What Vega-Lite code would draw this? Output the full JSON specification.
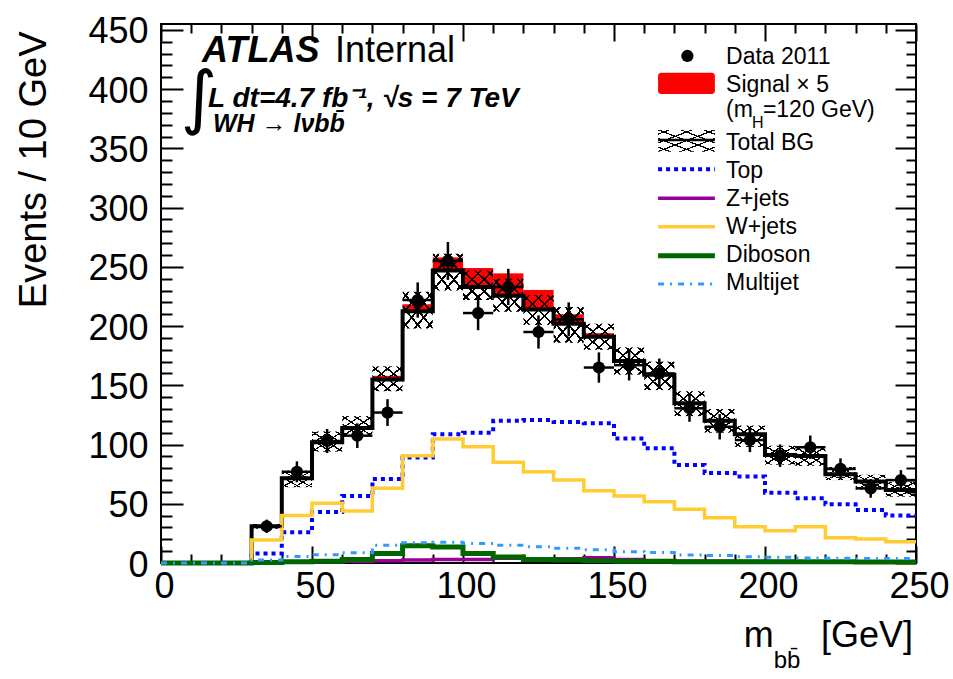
{
  "$schema": "https://vega.github.io/schema/vega-lite/v6.json",
  "width": 755,
  "height": 539,
  "autosize": {"type": "none"},
  "padding": {"left": 161, "top": 24, "right": 37, "bottom": 116},
  "background": "white",
  "config": {
    "font": "Liberation Sans",
    "view": {"stroke": "black", "strokeWidth": 2},
    "axis": {"labelColor": "black", "tickColor": "black", "tickWidth": 2, "domain": false, "grid": false, "labelOverlap": false, "labelFlush": false}
  },
  "resolve": {"axis": {"x": "independent", "y": "independent"}},
  "data": {
    "values": [
      {"lo": 0, "hi": 10, "c": 5, "bg": 0, "sig": 0, "up": 0, "dn": 0, "top": 0, "wj": 0, "zj": 0, "db": 0, "mj": 0, "d": null, "dl": null, "dh": null},
      {"lo": 10, "hi": 20, "c": 15, "bg": 0, "sig": 0, "up": 0, "dn": 0, "top": 0, "wj": 0, "zj": 0, "db": 0, "mj": 0, "d": null, "dl": null, "dh": null},
      {"lo": 20, "hi": 30, "c": 25, "bg": 0, "sig": 0, "up": 0, "dn": 0, "top": 0, "wj": 0, "zj": 0, "db": 0, "mj": 0, "d": null, "dl": null, "dh": null},
      {"lo": 30, "hi": 40, "c": 35, "bg": 31, "sig": 31.5, "up": 33, "dn": 29, "top": 8, "wj": 19.4, "zj": 0.5, "db": 0.5, "mj": 2.5, "d": 31, "dl": 25.4, "dh": 36.6},
      {"lo": 40, "hi": 50, "c": 45, "bg": 71.5, "sig": 72, "up": 78, "dn": 64, "top": 26, "wj": 40, "zj": 1, "db": 1, "mj": 5.5, "d": 77, "dl": 68.2, "dh": 85.8},
      {"lo": 50, "hi": 60, "c": 55, "bg": 102, "sig": 102.5, "up": 111, "dn": 94, "top": 43, "wj": 50.4, "zj": 1, "db": 1.5, "mj": 7, "d": 103, "dl": 92.9, "dh": 113.1},
      {"lo": 60, "hi": 70, "c": 65, "bg": 114, "sig": 115, "up": 124, "dn": 107, "top": 56.5, "wj": 44, "zj": 1.5, "db": 3, "mj": 8.7, "d": 107.5, "dl": 97.1, "dh": 117.9},
      {"lo": 70, "hi": 80, "c": 75, "bg": 155, "sig": 158, "up": 166, "dn": 145, "top": 71, "wj": 63, "zj": 2, "db": 8, "mj": 15, "d": 127, "dl": 115.7, "dh": 138.3},
      {"lo": 80, "hi": 90, "c": 85, "bg": 212.5, "sig": 218.5, "up": 229, "dn": 198, "top": 89, "wj": 90.6, "zj": 2.5, "db": 14.5, "mj": 17, "d": 222, "dl": 207.1, "dh": 236.9},
      {"lo": 90, "hi": 100, "c": 95, "bg": 247, "sig": 258, "up": 261, "dn": 230, "top": 108.6, "wj": 104.7, "zj": 3, "db": 13.5, "mj": 17.5, "d": 255, "dl": 239, "dh": 271},
      {"lo": 100, "hi": 110, "c": 105, "bg": 233, "sig": 249, "up": 247, "dn": 222, "top": 110, "wj": 98.2, "zj": 3, "db": 8, "mj": 16.5, "d": 211, "dl": 196.5, "dh": 225.5},
      {"lo": 110, "hi": 120, "c": 115, "bg": 225.5, "sig": 244.5, "up": 240, "dn": 212, "top": 120, "wj": 85, "zj": 4, "db": 5, "mj": 15, "d": 233, "dl": 217.7, "dh": 248.3},
      {"lo": 120, "hi": 130, "c": 125, "bg": 214, "sig": 230.5, "up": 226, "dn": 201, "top": 120.7, "wj": 77, "zj": 3.5, "db": 3, "mj": 13.8, "d": 195, "dl": 181, "dh": 209},
      {"lo": 130, "hi": 140, "c": 135, "bg": 202, "sig": 210, "up": 216, "dn": 186, "top": 119, "wj": 70, "zj": 3.5, "db": 2.5, "mj": 12.4, "d": 205.7, "dl": 191.4, "dh": 220},
      {"lo": 140, "hi": 150, "c": 145, "bg": 191, "sig": 194, "up": 202, "dn": 180, "top": 118, "wj": 61, "zj": 4.5, "db": 2, "mj": 11.2, "d": 165, "dl": 152.2, "dh": 177.8},
      {"lo": 150, "hi": 160, "c": 155, "bg": 170.5, "sig": 171.5, "up": 182, "dn": 159, "top": 105, "wj": 56.6, "zj": 3, "db": 1.5, "mj": 9.6, "d": 167, "dl": 154.1, "dh": 179.9},
      {"lo": 160, "hi": 170, "c": 165, "bg": 159, "sig": 160, "up": 170, "dn": 146, "top": 96.8, "wj": 51.8, "zj": 2, "db": 1.5, "mj": 8.9, "d": 160, "dl": 147.4, "dh": 172.6},
      {"lo": 170, "hi": 180, "c": 175, "bg": 134.8, "sig": 135.5, "up": 145, "dn": 124, "top": 82.7, "wj": 45.3, "zj": 1.5, "db": 1, "mj": 6.8, "d": 130.6, "dl": 119.2, "dh": 142},
      {"lo": 180, "hi": 190, "c": 185, "bg": 120, "sig": 120.5, "up": 130, "dn": 110, "top": 76, "wj": 38.3, "zj": 1.5, "db": 1, "mj": 6.3, "d": 115, "dl": 104.3, "dh": 125.7},
      {"lo": 190, "hi": 200, "c": 195, "bg": 108.6, "sig": 109, "up": 116, "dn": 98, "top": 73, "wj": 30.7, "zj": 1.2, "db": 1, "mj": 5.3, "d": 103.8, "dl": 93.6, "dh": 114},
      {"lo": 200, "hi": 210, "c": 205, "bg": 91.2, "sig": 91.5, "up": 99, "dn": 83, "top": 59.4, "wj": 27.3, "zj": 1.2, "db": 1, "mj": 4.8, "d": 90.6, "dl": 81.1, "dh": 100.1},
      {"lo": 210, "hi": 220, "c": 215, "bg": 90.3, "sig": 90.6, "up": 98, "dn": 82, "top": 54.6, "wj": 30.7, "zj": 1, "db": 1, "mj": 4.2, "d": 97.7, "dl": 87.8, "dh": 107.6},
      {"lo": 220, "hi": 230, "c": 225, "bg": 74.9, "sig": 75.2, "up": 81, "dn": 70, "top": 49.5, "wj": 21.4, "zj": 1, "db": 1, "mj": 4, "d": 79.4, "dl": 70.5, "dh": 88.3},
      {"lo": 230, "hi": 240, "c": 235, "bg": 68.7, "sig": 69, "up": 74.5, "dn": 62, "top": 44.7, "wj": 20.3, "zj": 1, "db": 0.8, "mj": 3.8, "d": 63, "dl": 55.1, "dh": 70.9},
      {"lo": 240, "hi": 250, "c": 245, "bg": 61.6, "sig": 61.9, "up": 68.5, "dn": 56, "top": 40, "wj": 18, "zj": 1, "db": 0.8, "mj": 3.7, "d": 70, "dl": 61.6, "dh": 78.4},
      {"lo": 250, "hi": null, "c": null, "bg": 61.6, "sig": null, "up": null, "dn": null, "top": 40, "wj": 18, "zj": 1, "db": 0.8, "mj": 3.7, "d": null, "dl": null, "dh": null}
    ]
  },
  "layer": [
    {
      "transform": [{"filter": "datum.lo < 250"}],
      "mark": {"type": "rect", "fill": "#ff0000"},
      "encoding": {
        "x": {
          "field": "lo", "type": "quantitative",
          "scale": {"domain": [0, 250], "nice": false, "zero": false},
          "axis": {
            "orient": "bottom", "title": null,
            "values": [0, 10, 20, 30, 40, 50, 60, 70, 80, 90, 100, 110, 120, 130, 140, 150, 160, 170, 180, 190, 200, 210, 220, 230, 240, 250],
            "labelExpr": "datum.value % 50 === 0 ? datum.label : ''",
            "tickSize": {"condition": {"test": "datum.value % 50 === 0", "value": -17}, "value": -9},
            "labelFontSize": 36, "labelPadding": 23, "labelOffset": 3
          }
        },
        "x2": {"field": "hi"},
        "y": {
          "field": "bg", "type": "quantitative",
          "scale": {"domain": [0, 455], "nice": false},
          "axis": {
            "orient": "left",
            "values": [0, 10, 20, 30, 40, 50, 60, 70, 80, 90, 100, 110, 120, 130, 140, 150, 160, 170, 180, 190, 200, 210, 220, 230, 240, 250, 260, 270, 280, 290, 300, 310, 320, 330, 340, 350, 360, 370, 380, 390, 400, 410, 420, 430, 440, 450],
            "labelExpr": "datum.value % 50 === 0 ? datum.label : ''",
            "tickSize": {"condition": {"test": "datum.value % 50 === 0", "value": -22}, "value": -11},
            "labelFontSize": 36, "labelPadding": 35, "labelOffset": 2,
            "title": "Events / 10 GeV", "titleFontSize": 38, "titleFontWeight": "normal", "titleColor": "black",
            "titleX": -116, "titleY": 7, "titleAngle": 270, "titleAlign": "right", "titleBaseline": "alphabetic"
          }
        },
        "y2": {"field": "sig"}
      }
    },
    {
      "transform": [{"filter": "datum.lo < 250"}],
      "mark": {"type": "rect", "fill": {"gradient": "linear", "x1": 0, "y1": 0, "x2": 1, "y2": 1, "stops": [
        {"offset": 0, "color": "rgba(0,0,0,0)"},
        {"offset": 0.08, "color": "rgba(0,0,0,0)"}, {"offset": 0.08, "color": "#000"}, {"offset": 0.12, "color": "#000"}, {"offset": 0.12, "color": "rgba(0,0,0,0)"},
        {"offset": 0.28, "color": "rgba(0,0,0,0)"}, {"offset": 0.28, "color": "#000"}, {"offset": 0.32, "color": "#000"}, {"offset": 0.32, "color": "rgba(0,0,0,0)"},
        {"offset": 0.48, "color": "rgba(0,0,0,0)"}, {"offset": 0.48, "color": "#000"}, {"offset": 0.52, "color": "#000"}, {"offset": 0.52, "color": "rgba(0,0,0,0)"},
        {"offset": 0.68, "color": "rgba(0,0,0,0)"}, {"offset": 0.68, "color": "#000"}, {"offset": 0.72, "color": "#000"}, {"offset": 0.72, "color": "rgba(0,0,0,0)"},
        {"offset": 0.88, "color": "rgba(0,0,0,0)"}, {"offset": 0.88, "color": "#000"}, {"offset": 0.92, "color": "#000"}, {"offset": 0.92, "color": "rgba(0,0,0,0)"},
        {"offset": 1, "color": "rgba(0,0,0,0)"}]}},
      "encoding": {
        "x": {
          "field": "lo", "type": "quantitative",
          "axis": {
            "orient": "top", "title": null, "labels": false,
            "values": [0, 10, 20, 30, 40, 50, 60, 70, 80, 90, 100, 110, 120, 130, 140, 150, 160, 170, 180, 190, 200, 210, 220, 230, 240, 250],
            "tickSize": {"condition": {"test": "datum.value % 50 === 0", "value": -17}, "value": -9}
          }
        },
        "x2": {"field": "hi"},
        "y": {
          "field": "dn", "type": "quantitative",
          "axis": {
            "orient": "right", "title": null, "labels": false,
            "values": [0, 10, 20, 30, 40, 50, 60, 70, 80, 90, 100, 110, 120, 130, 140, 150, 160, 170, 180, 190, 200, 210, 220, 230, 240, 250, 260, 270, 280, 290, 300, 310, 320, 330, 340, 350, 360, 370, 380, 390, 400, 410, 420, 430, 440, 450],
            "tickSize": {"condition": {"test": "datum.value % 50 === 0", "value": -21}, "value": -10}
          }
        },
        "y2": {"field": "up"}
      }
    },
    {
      "transform": [{"filter": "datum.lo < 250"}],
      "mark": {"type": "rect", "fill": {"gradient": "linear", "x1": 1, "y1": 0, "x2": 0, "y2": 1, "stops": [
        {"offset": 0, "color": "rgba(0,0,0,0)"},
        {"offset": 0.08, "color": "rgba(0,0,0,0)"}, {"offset": 0.08, "color": "#000"}, {"offset": 0.12, "color": "#000"}, {"offset": 0.12, "color": "rgba(0,0,0,0)"},
        {"offset": 0.28, "color": "rgba(0,0,0,0)"}, {"offset": 0.28, "color": "#000"}, {"offset": 0.32, "color": "#000"}, {"offset": 0.32, "color": "rgba(0,0,0,0)"},
        {"offset": 0.48, "color": "rgba(0,0,0,0)"}, {"offset": 0.48, "color": "#000"}, {"offset": 0.52, "color": "#000"}, {"offset": 0.52, "color": "rgba(0,0,0,0)"},
        {"offset": 0.68, "color": "rgba(0,0,0,0)"}, {"offset": 0.68, "color": "#000"}, {"offset": 0.72, "color": "#000"}, {"offset": 0.72, "color": "rgba(0,0,0,0)"},
        {"offset": 0.88, "color": "rgba(0,0,0,0)"}, {"offset": 0.88, "color": "#000"}, {"offset": 0.92, "color": "#000"}, {"offset": 0.92, "color": "rgba(0,0,0,0)"},
        {"offset": 1, "color": "rgba(0,0,0,0)"}]}},
      "encoding": {
        "x": {"field": "lo", "type": "quantitative", "axis": null},
        "x2": {"field": "hi"},
        "y": {"field": "dn", "type": "quantitative", "axis": null},
        "y2": {"field": "up"}
      }
    },
    {
      "mark": {"type": "line", "interpolate": "step-after", "color": "black", "strokeWidth": 4},
      "encoding": {
        "x": {"field": "lo", "type": "quantitative", "axis": null},
        "y": {"field": "bg", "type": "quantitative", "axis": null}
      }
    },
    {
      "mark": {"type": "line", "interpolate": "step-after", "color": "#0000ff", "strokeWidth": 4, "strokeDash": [4, 4]},
      "encoding": {
        "x": {"field": "lo", "type": "quantitative", "axis": null},
        "y": {"field": "top", "type": "quantitative", "axis": null}
      }
    },
    {
      "mark": {"type": "line", "interpolate": "step-after", "color": "#ffcc33", "strokeWidth": 3.5},
      "encoding": {
        "x": {"field": "lo", "type": "quantitative", "axis": null},
        "y": {"field": "wj", "type": "quantitative", "axis": null}
      }
    },
    {
      "mark": {"type": "line", "interpolate": "step-after", "color": "#990099", "strokeWidth": 3.5},
      "encoding": {
        "x": {"field": "lo", "type": "quantitative", "axis": null},
        "y": {"field": "zj", "type": "quantitative", "axis": null}
      }
    },
    {
      "mark": {"type": "line", "interpolate": "step-after", "color": "#006600", "strokeWidth": 5},
      "encoding": {
        "x": {"field": "lo", "type": "quantitative", "axis": null},
        "y": {"field": "db", "type": "quantitative", "axis": null}
      }
    },
    {
      "mark": {"type": "line", "interpolate": "step-after", "color": "#3399ff", "strokeWidth": 3, "strokeDash": [6, 6, 2, 6]},
      "encoding": {
        "x": {"field": "lo", "type": "quantitative", "axis": null},
        "y": {"field": "mj", "type": "quantitative", "axis": null}
      }
    },
    {
      "transform": [{"filter": "isValid(datum.d)"}],
      "mark": {"type": "rule", "color": "black", "strokeWidth": 2.5},
      "encoding": {
        "x": {"field": "lo", "type": "quantitative", "axis": null},
        "x2": {"field": "hi"},
        "y": {"field": "d", "type": "quantitative", "axis": null}
      }
    },
    {
      "transform": [{"filter": "isValid(datum.d)"}],
      "mark": {"type": "rule", "color": "black", "strokeWidth": 2.5},
      "encoding": {
        "x": {"field": "c", "type": "quantitative", "axis": null},
        "y": {"field": "dl", "type": "quantitative", "axis": null},
        "y2": {"field": "dh"}
      }
    },
    {
      "transform": [{"filter": "isValid(datum.d)"}],
      "mark": {"type": "point", "shape": "circle", "filled": true, "color": "black", "opacity": 1, "size": 150},
      "encoding": {
        "x": {"field": "c", "type": "quantitative", "axis": null},
        "y": {"field": "d", "type": "quantitative", "axis": null}
      }
    },
    {
      "data": {"values": [{}]},
      "mark": {"type": "text", "text": "ATLAS", "fontSize": 36, "fontWeight": "bold", "fontStyle": "italic", "align": "left", "baseline": "alphabetic", "color": "black"},
      "encoding": {"x": {"datum": 13.6, "type": "quantitative", "axis": null}, "y": {"datum": 423.2, "type": "quantitative", "axis": null}}
    },
    {
      "data": {"values": [{}]},
      "mark": {"type": "text", "text": "Internal", "fontSize": 36, "align": "left", "baseline": "alphabetic", "color": "black"},
      "encoding": {"x": {"datum": 57.6, "type": "quantitative", "axis": null}, "y": {"datum": 423.2, "type": "quantitative", "axis": null}}
    },
    {
      "data": {"values": [{}]},
      "mark": {"type": "text", "text": "∫", "font": "DejaVu Sans", "fontSize": 70, "align": "center", "baseline": "middle", "color": "black"},
      "encoding": {"x": {"datum": 12.6, "type": "quantitative", "axis": null}, "y": {"datum": 391.0, "type": "quantitative", "axis": null}}
    },
    {
      "data": {"values": [{}]},
      "mark": {"type": "text", "text": "L dt=4.7 fb⁻¹, √s = 7 TeV", "fontSize": 28, "fontWeight": "bold", "fontStyle": "italic", "align": "left", "baseline": "alphabetic", "color": "black"},
      "encoding": {"x": {"datum": 15.6, "type": "quantitative", "axis": null}, "y": {"datum": 385.2, "type": "quantitative", "axis": null}}
    },
    {
      "data": {"values": [{}]},
      "mark": {"type": "text", "text": "WH → lνbb̄", "fontSize": 25, "fontWeight": "bold", "fontStyle": "italic", "align": "left", "baseline": "alphabetic", "color": "black"},
      "encoding": {"x": {"datum": 17.2, "type": "quantitative", "axis": null}, "y": {"datum": 364.1, "type": "quantitative", "axis": null}}
    },
    {
      "data": {"values": [{}]},
      "mark": {"type": "point", "shape": "circle", "filled": true, "color": "black", "opacity": 1, "size": 150},
      "encoding": {"x": {"datum": 174.3, "type": "quantitative", "axis": null}, "y": {"datum": 428.0, "type": "quantitative", "axis": null}}
    },
    {
      "data": {"values": [{}]},
      "mark": {"type": "rect", "fill": "#ff0000", "cornerRadius": 3},
      "encoding": {"x": {"datum": 164.6, "type": "quantitative", "axis": null}, "x2": {"datum": 183.4}, "y": {"datum": 395.9, "type": "quantitative", "axis": null}, "y2": {"datum": 413.9}}
    },
    {
      "data": {"values": [{}]},
      "mark": {"type": "rect", "fill": {"gradient": "linear", "x1": 0, "y1": 0, "x2": 1, "y2": 1, "stops": [
        {"offset": 0, "color": "rgba(0,0,0,0)"},
        {"offset": 0.08, "color": "rgba(0,0,0,0)"}, {"offset": 0.08, "color": "#000"}, {"offset": 0.11, "color": "#000"}, {"offset": 0.11, "color": "rgba(0,0,0,0)"},
        {"offset": 0.28, "color": "rgba(0,0,0,0)"}, {"offset": 0.28, "color": "#000"}, {"offset": 0.31, "color": "#000"}, {"offset": 0.31, "color": "rgba(0,0,0,0)"},
        {"offset": 0.48, "color": "rgba(0,0,0,0)"}, {"offset": 0.48, "color": "#000"}, {"offset": 0.51, "color": "#000"}, {"offset": 0.51, "color": "rgba(0,0,0,0)"},
        {"offset": 0.68, "color": "rgba(0,0,0,0)"}, {"offset": 0.68, "color": "#000"}, {"offset": 0.71, "color": "#000"}, {"offset": 0.71, "color": "rgba(0,0,0,0)"},
        {"offset": 0.88, "color": "rgba(0,0,0,0)"}, {"offset": 0.88, "color": "#000"}, {"offset": 0.91, "color": "#000"}, {"offset": 0.91, "color": "rgba(0,0,0,0)"},
        {"offset": 1, "color": "rgba(0,0,0,0)"}]}},
      "encoding": {"x": {"datum": 164.6, "type": "quantitative", "axis": null}, "x2": {"datum": 183.4}, "y": {"datum": 347.2, "type": "quantitative", "axis": null}, "y2": {"datum": 365.5}}
    },
    {
      "data": {"values": [{}]},
      "mark": {"type": "rect", "fill": {"gradient": "linear", "x1": 1, "y1": 0, "x2": 0, "y2": 1, "stops": [
        {"offset": 0, "color": "rgba(0,0,0,0)"},
        {"offset": 0.08, "color": "rgba(0,0,0,0)"}, {"offset": 0.08, "color": "#000"}, {"offset": 0.11, "color": "#000"}, {"offset": 0.11, "color": "rgba(0,0,0,0)"},
        {"offset": 0.28, "color": "rgba(0,0,0,0)"}, {"offset": 0.28, "color": "#000"}, {"offset": 0.31, "color": "#000"}, {"offset": 0.31, "color": "rgba(0,0,0,0)"},
        {"offset": 0.48, "color": "rgba(0,0,0,0)"}, {"offset": 0.48, "color": "#000"}, {"offset": 0.51, "color": "#000"}, {"offset": 0.51, "color": "rgba(0,0,0,0)"},
        {"offset": 0.68, "color": "rgba(0,0,0,0)"}, {"offset": 0.68, "color": "#000"}, {"offset": 0.71, "color": "#000"}, {"offset": 0.71, "color": "rgba(0,0,0,0)"},
        {"offset": 0.88, "color": "rgba(0,0,0,0)"}, {"offset": 0.88, "color": "#000"}, {"offset": 0.91, "color": "#000"}, {"offset": 0.91, "color": "rgba(0,0,0,0)"},
        {"offset": 1, "color": "rgba(0,0,0,0)"}]}},
      "encoding": {"x": {"datum": 164.6, "type": "quantitative", "axis": null}, "x2": {"datum": 183.4}, "y": {"datum": 347.2, "type": "quantitative", "axis": null}, "y2": {"datum": 365.5}}
    },
    {
      "data": {"values": [{}]},
      "mark": {"type": "rule", "color": "black", "strokeWidth": 2.5},
      "encoding": {"x": {"datum": 164.6, "type": "quantitative", "axis": null}, "x2": {"datum": 183.4}, "y": {"datum": 357.1, "type": "quantitative", "axis": null}}
    },
    {
      "data": {"values": [{}]},
      "mark": {"type": "rule", "color": "#0000ff", "strokeWidth": 4, "strokeDash": [4, 4]},
      "encoding": {"x": {"datum": 164.6, "type": "quantitative", "axis": null}, "x2": {"datum": 183.4}, "y": {"datum": 332.4, "type": "quantitative", "axis": null}}
    },
    {
      "data": {"values": [{}]},
      "mark": {"type": "rule", "color": "#990099", "strokeWidth": 3.5},
      "encoding": {"x": {"datum": 164.6, "type": "quantitative", "axis": null}, "x2": {"datum": 183.4}, "y": {"datum": 307.9, "type": "quantitative", "axis": null}}
    },
    {
      "data": {"values": [{}]},
      "mark": {"type": "rule", "color": "#ffcc33", "strokeWidth": 3.5},
      "encoding": {"x": {"datum": 164.6, "type": "quantitative", "axis": null}, "x2": {"datum": 183.4}, "y": {"datum": 283.9, "type": "quantitative", "axis": null}}
    },
    {
      "data": {"values": [{}]},
      "mark": {"type": "rule", "color": "#006600", "strokeWidth": 5},
      "encoding": {"x": {"datum": 164.6, "type": "quantitative", "axis": null}, "x2": {"datum": 183.4}, "y": {"datum": 259.4, "type": "quantitative", "axis": null}}
    },
    {
      "data": {"values": [{}]},
      "mark": {"type": "rule", "color": "#3399ff", "strokeWidth": 3, "strokeDash": [6, 6, 2, 6]},
      "encoding": {"x": {"datum": 164.6, "type": "quantitative", "axis": null}, "x2": {"datum": 183.4}, "y": {"datum": 235.5, "type": "quantitative", "axis": null}}
    },
    {
      "data": {"values": [{}]},
      "mark": {"type": "text", "text": ["Data 2011", "Signal × 5"], "lineHeight": 27.4, "fontSize": 23, "align": "left", "baseline": "alphabetic", "color": "black"},
      "encoding": {"x": {"datum": 187.1, "type": "quantitative", "axis": null}, "y": {"datum": 421.0, "type": "quantitative", "axis": null}}
    },
    {
      "data": {"values": [{}]},
      "mark": {"type": "text", "text": "(m", "fontSize": 23, "align": "left", "baseline": "alphabetic", "color": "black"},
      "encoding": {"x": {"datum": 187.1, "type": "quantitative", "axis": null}, "y": {"datum": 376.5, "type": "quantitative", "axis": null}}
    },
    {
      "data": {"values": [{}]},
      "mark": {"type": "text", "text": "H", "fontSize": 16, "align": "left", "baseline": "alphabetic", "color": "black"},
      "encoding": {"x": {"datum": 195.7, "type": "quantitative", "axis": null}, "y": {"datum": 367.2, "type": "quantitative", "axis": null}}
    },
    {
      "data": {"values": [{}]},
      "mark": {"type": "text", "text": "=120 GeV)", "fontSize": 23, "align": "left", "baseline": "alphabetic", "color": "black"},
      "encoding": {"x": {"datum": 199.3, "type": "quantitative", "axis": null}, "y": {"datum": 376.5, "type": "quantitative", "axis": null}}
    },
    {
      "data": {"values": [{}]},
      "mark": {"type": "text", "text": ["Total BG", "Top", "Z+jets", "W+jets", "Diboson", "Multijet"], "lineHeight": 28, "fontSize": 23, "align": "left", "baseline": "alphabetic", "color": "black"},
      "encoding": {"x": {"datum": 187.1, "type": "quantitative", "axis": null}, "y": {"datum": 348.6, "type": "quantitative", "axis": null}}
    },
    {
      "data": {"values": [{}]},
      "mark": {"type": "text", "text": "m", "fontSize": 36, "align": "left", "baseline": "alphabetic", "color": "black"},
      "encoding": {"x": {"datum": 193.0, "type": "quantitative", "axis": null}, "y": {"datum": -70.9, "type": "quantitative", "axis": null}}
    },
    {
      "data": {"values": [{}]},
      "mark": {"type": "text", "text": "bb̄", "fontSize": 24, "align": "left", "baseline": "alphabetic", "color": "black"},
      "encoding": {"x": {"datum": 202.9, "type": "quantitative", "axis": null}, "y": {"datum": -88.6, "type": "quantitative", "axis": null}}
    },
    {
      "data": {"values": [{}]},
      "mark": {"type": "text", "text": "[GeV]", "fontSize": 36, "align": "right", "baseline": "alphabetic", "color": "black"},
      "encoding": {"x": {"datum": 249.0, "type": "quantitative", "axis": null}, "y": {"datum": -70.9, "type": "quantitative", "axis": null}}
    }
  ]
}
